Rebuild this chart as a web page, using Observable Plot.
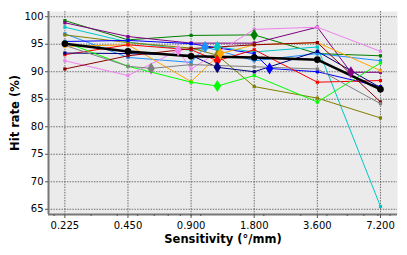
<!DOCTYPE html>
<html><head><meta charset="utf-8">
<script src="https://cdn.jsdelivr.net/npm/d3@7"></script>
<script src="https://cdn.jsdelivr.net/npm/@observablehq/plot@0.6"></script>
<style>
body{margin:0;background:#fff}
svg{display:block}
g[aria-label="x-axis label"] text, g[aria-label="y-axis label"] text{font-weight:bold;font-size:11.5px}
</style>
</head><body><div id="chart"></div>
<script>
const sensitivities = [0.225, 0.45, 0.9, 1.8, 3.6, 7.2];
const xTickLabels = ["0.225", "0.450", "0.900", "1.800", "3.600", "7.200"];
const yTicks = [65, 70, 75, 80, 85, 90, 95, 100];
const participants = ["P1","P2","P3","P4","P5","P6","P7","P8","P9","P10","P11","P12","P13"];
const colors = ["#008000","#800080","#00c8c8","#1e90ff","#808000","#0000ff","#ffa500","#ff0000","#000080","#00ff00","#ee82ee","#8b0000","#808080"];
const hitRates = [
  [99.3, 95.8, 96.6, 96.7, 93.3, 92.9],
  [98.9, 96.4, 95.2, 95.2, 98.1, 89.9],
  [98.1, 95.4, 93.9, 93.6, 94.5, 65.5],
  [96.9, 92.6, 91.7, 92.0, 93.3, 92.0],
  [96.7, 95.3, 94.3, 87.3, 85.2, 81.6],
  [95.5, 95.7, 95.1, 93.3, 90.0, 87.3],
  [94.6, 94.9, 88.2, 94.9, 95.3, 90.2],
  [93.1, 94.9, 94.0, 94.0, 88.1, 88.4],
  [93.4, 93.3, 93.0, 90.0, 93.7, 87.1],
  [95.4, 91.0, 88.1, 89.3, 84.5, 91.6],
  [92.0, 89.3, 90.5, 97.7, 98.1, 93.7],
  [90.5, 92.9, 94.2, 94.9, 95.3, 84.5],
  [94.8, 91.0, 91.3, 90.9, 90.5, 84.2]
];
const prefSensitivity = [1.8, 5.2, 1.2, 1.05, 1.2, 2.13, 1.24, 1.2, 1.2, 1.2, 0.78, null, 0.58];
const prefHitRate = [96.7, 89.9, 94.5, 94.5, 93.0, 90.6, 93.3, 92.0, 90.8, 87.4, 93.9, null, 90.6];
const meanHitRate = [95.1, 93.7, 92.8, 92.6, 92.2, 86.8];
const minorTicks = [0.2,0.3,0.4,0.5,0.6,0.7,0.8,0.9,1,2,3,4,5,6,7,8];

const points = [];
const prefs = [];
participants.forEach((id, i) => {
  sensitivities.forEach((s, j) => points.push({id, s, hit: hitRates[i][j], pref: false}));
  if (prefSensitivity[i] != null) {
    const p = {id, s: prefSensitivity[i], hit: prefHitRate[i], pref: true};
    points.push(p);
    prefs.push(p);
  }
});
const lineRows = d3.sort(points, d => d.s);
const meanRows = sensitivities.map((s, j) => ({s, hit: meanHitRate[j]}));
const squares = points.filter(d => !d.pref);

const thinDiamond = {draw(ctx, size) {
  const h = Math.sqrt(size) * 0.65, w = h * 0.62;
  ctx.moveTo(0, -h); ctx.lineTo(w, 0); ctx.lineTo(0, h); ctx.lineTo(-w, 0); ctx.closePath();
}};

const xDomain = [0.188, 8.68];
const yDomain = [64.05, 100.95];
const fmt = d => xTickLabels[sensitivities.indexOf(d)];

const chart = Plot.plot({
  width: 407, height: 255,
  marginLeft: 48, marginRight: 10, marginTop: 11, marginBottom: 41,
  style: {fontFamily: "DejaVu Sans", fontSize: "10px", color: "#000"},
  x: {type: "log", base: 2, domain: xDomain},
  y: {domain: yDomain},
  color: {domain: participants, range: colors},
  marks: [
    Plot.frame({fill: "#ebebeb", stroke: null}),
    Plot.gridX(sensitivities, {stroke: "#444", strokeOpacity: 0.75, strokeDasharray: "1.5,1.2"}),
    Plot.gridY(yTicks, {stroke: "#444", strokeOpacity: 0.75, strokeDasharray: "1.5,1.2"}),
    Plot.ruleX([xDomain[0]], {stroke: "#777", strokeWidth: 2}),
    Plot.ruleY([yDomain[0]], {stroke: "#777", strokeWidth: 2}),
    Plot.axisX(minorTicks, {tickSize: 2, tickFormat: () => "", label: null, stroke: "#555"}),
    Plot.axisX(sensitivities, {tickSize: 4, tickPadding: 3, tickFormat: fmt, label: "Sensitivity (°/mm)", labelAnchor: "center", labelArrow: "none", labelOffset: 28, stroke: "#555"}),
    Plot.axisY(yTicks, {tickSize: 3, tickPadding: 2, label: "Hit rate (%)", labelAnchor: "center", labelArrow: "none", labelOffset: 38, stroke: "#555"}),
    Plot.line(lineRows, {x: "s", y: "hit", z: "id", stroke: "id", strokeWidth: 1}),
    Plot.dot(squares, {x: "s", y: "hit", fill: "id", symbol: "square", r: 1.8}),
    Plot.line(meanRows, {x: "s", y: "hit", stroke: "#000", strokeWidth: 2.5}),
    Plot.dot(meanRows, {x: "s", y: "hit", fill: "#000", r: 3.3}),
    Plot.dot(prefs, {x: "s", y: "hit", fill: "id", symbol: thinDiamond, r: 5.2})
  ]
});
document.getElementById("chart").append(chart);
</script>
</body></html>
